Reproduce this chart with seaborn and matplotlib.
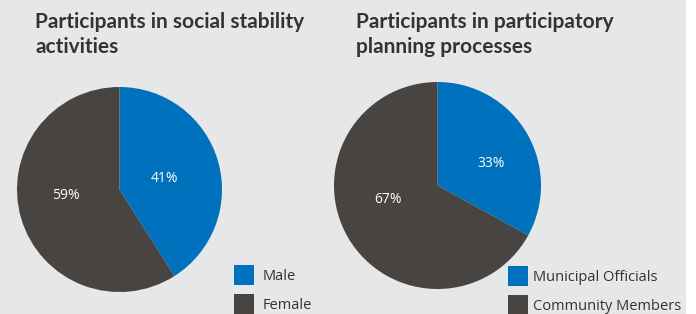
import matplotlib
matplotlib.use('Agg')
import matplotlib.pyplot as plt
import seaborn as sns
from matplotlib.patches import Rectangle

sns.set_theme(style='white')
plt.rcParams['font.family'] = ['Open Sans', 'DejaVu Sans']

# ---- data ----
left_title = ["Participants in social stability", "activities"]
left_labels = ["Male", "Female"]
left_values = [41, 59]

right_title = ["Participants in participatory", "planning processes"]
right_labels = ["Municipal Officials", "Community Members"]
right_values = [33, 67]

colors = ['#0071bc', '#474441']
bg = '#e6e7e8'

W, H = 696, 314
fig = plt.figure(figsize=(W / 100, H / 100), dpi=100, facecolor='white')
fig.patches.append(Rectangle((0, 0), 686 / W, 1, transform=fig.transFigure,
                             facecolor=bg, edgecolor='none', zorder=-10))


def px_axes(cx, cy, r):
    return fig.add_axes([(cx - r) / W, (H - cy - r) / H, 2 * r / W, 2 * r / H])


def draw_pie(ax, values, label_pos):
    wedges, _, autotexts = ax.pie(values, colors=colors, startangle=90,
                                  counterclock=False, radius=1,
                                  autopct=lambda p: f'{round(p):d}%',
                                  pctdistance=0.5,
                                  wedgeprops=dict(linewidth=0),
                                  textprops=dict(color='white', fontsize=10))
    for t, p in zip(autotexts, label_pos):
        t.set_position(p)
        t.set_ha('center')
        t.set_va('center')
    ax.set_xlim(-1, 1)
    ax.set_ylim(-1, 1)
    ax.set_aspect('equal')
    ax.set_facecolor('none')
    ax.axis('off')
    return wedges


ax1 = px_axes(119.5, 189.5, 102.5)
w1 = draw_pie(ax1, left_values, [(0.44, 0.11), (-0.52, -0.06)])
ax2 = px_axes(437.5, 185.5, 103.5)
w2 = draw_pie(ax2, right_values, [(0.52, 0.21), (-0.48, -0.14)])

# titles
for x, lines in [(35, left_title), (356, right_title)]:
    for i, line in enumerate(lines):
        fig.text(x / W, 1 - (28 + 25 * i) / H, line, fontsize=15,
                 fontweight='bold', color='#333333', ha='left', va='baseline',
                 family=['Lato', 'DejaVu Sans'])

# legends
fs = 10.5
fspx = fs * 100 / 72
hh = (20 / fspx - 0.245) / 0.65
common = dict(frameon=False, fontsize=fs, handlelength=20 / fspx,
              handleheight=hh, borderpad=0, borderaxespad=0,
              labelspacing=9 / fspx, loc='upper left',
              bbox_transform=fig.transFigure, labelcolor='#333333')
fig.legend(w1, left_labels, bbox_to_anchor=(234 / W, 1 - 265 / H),
           handletextpad=9 / fspx, **common)
fig.legend(w2, right_labels, bbox_to_anchor=(508 / W, 1 - 266 / H),
           handletextpad=5 / fspx, **common)

fig.savefig('out.png', dpi=100, facecolor=fig.get_facecolor())
